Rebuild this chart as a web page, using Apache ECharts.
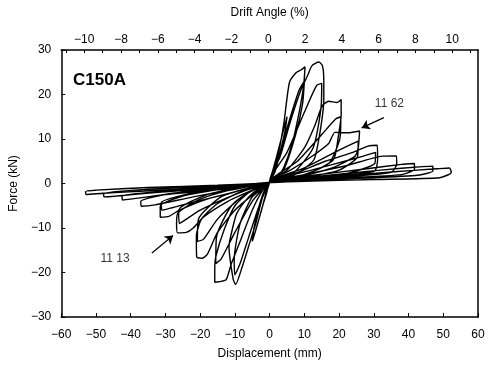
<!DOCTYPE html>
<html>
<head>
<meta charset="utf-8">
<script src="https://cdn.jsdelivr.net/npm/echarts@6/dist/echarts.min.js"></script>
<style>
  html, body { margin: 0; padding: 0; background: #fff; }
  #chart { width: 489px; height: 367px; }
</style>
</head>
<body>
<div id="chart"></div>
<script>
// displacement (mm), force (kN) - one loop per amplitude
var loop2 = [[0,0.5],[1,3],[2,6],[2.5,7.5],[2,6],[1,3],[0,0.6],[-1,-2.5],[-2,-5],[-2.5,-6.5],[-2,-5],[-1,-2],[0,0.4]];
var loop5 = [[0,0.5],[2,6],[4,12],[5,15],[4.5,12],[3,7],[1.5,2.5],[0,0.4],[-2,-5],[-4,-10.5],[-5,-13],[-4.5,-10],[-3,-5],[-1.5,-1.5],[0,0.3]];
var loop10 = [[0,0.5],[2,5],[4,13],[5.7,22.7],[7.6,24.9],[9,25.5],[10.2,26.2],[9.8,22],[8.5,16],[6.5,9],[4,3.5],[2,1.2],[0,0.3],
  [-2,-3],[-4,-9],[-6,-14],[-8,-19],[-9.8,-22.7],[-10.5,-21.5],[-11.7,-14.1],[-10.5,-9.5],[-9.4,-6.6],[-6,-3],[-3,-1],[0,0.3]];
var loop10b = [[0,0.4],[3,7],[6,15],[8.5,21],[10,23],[9.5,18],[7.5,11],[4,3],[0,0.2],
  [-3,-5],[-6,-12],[-8.5,-18],[-10,-20.5],[-10.2,-17],[-8.5,-9],[-5,-3],[0,0.2]];
var loop15 = [[0,0.5],[3,6],[6,14],[9,21],[10.9,24.2],[12.2,26.5],[14.2,27.3],[15.2,26.5],[15.6,23],[15.6,18.9],[14.5,11.5],[12.8,5.4],[9,2.8],[6,1.6],[3,0.8],[0,0.2],
  [-2,-1.5],[-5,-6],[-8,-12],[-11,-18],[-12.5,-21.6],[-14,-22],[-15.8,-22.2],[-15.8,-19],[-15.5,-16.4],[-13.1,-10.4],[-10,-5],[-6,-2],[-3,-0.8],[0,0.2]];
var loop15b = [[0,0.4],[5,7],[10,16],[13.5,22],[15,22.5],[14.8,17],[12.5,8],[7,2.5],[0,0.2],
  [-5,-4],[-10,-11],[-14,-17],[-15.5,-18],[-15.3,-12],[-11,-5],[-5,-1.5],[0,0.2]];
var loop20 = [[0,0.5],[5,3],[10,8],[13,13],[15.1,17.4],[17,18.5],[19.4,18.2],[20.6,18.9],[20.6,15.5],[19.8,10.7],[18.4,5.4],[12,2.5],[6,1.2],[0,0.2],
  [-4,-2],[-10,-6],[-15,-11],[-18,-16],[-19.5,-16.8],[-21,-16.5],[-21.1,-11.9],[-19.7,-8.1],[-15,-4.5],[-8,-1.8],[0,0.2]];
var loop20b = [[0,0.4],[8,5],[15,11],[19,14.5],[20.5,15],[20.2,10],[17,4.5],[8,1.5],[0,0.2],
  [-8,-3],[-15,-8],[-19,-12.5],[-20.8,-13],[-20.5,-8],[-14,-3],[-6,-1],[0,0.2]];
var loop25 = [[0,0.5],[6,3],[12,6],[17,9],[18.8,11.5],[22.7,11.4],[25.9,11.8],[25.5,8],[24.5,6.1],[18,3.5],[10,1.8],[0,0.3],
  [-5,-1.5],[-12,-4],[-19,-7.5],[-22,-10],[-24,-11],[-26.5,-11.1],[-26.8,-9],[-26.4,-6.6],[-20,-3.5],[-10,-1.2],[0,0.2]];
var loop25b = [[0,0.4],[10,3.5],[20,7.5],[25.5,9.5],[25.3,6],[20,3],[10,1.3],[0,0.2],
  [-10,-2.5],[-20,-6],[-26,-9],[-26.2,-6],[-18,-2.5],[-8,-0.8],[0,0.2]];
var loop30 = [[0,0.5],[8,2.5],[16,5],[24,7],[28.3,8.4],[31,8.6],[31.1,5.4],[30.2,2.8],[20,1.8],[10,1],[0,0.3],
  [-8,-1.5],[-18,-3.5],[-26,-6],[-29,-7.4],[-31.5,-7.6],[-31.5,-5.1],[-25,-2.8],[-12,-1],[0,0.2]];
var loop30b = [[0,0.4],[12,3],[24,5.5],[30.5,7],[30.3,4.5],[22,2.2],[10,0.9],[0,0.2],
  [-12,-2.3],[-24,-4.6],[-31,-6],[-31.2,-4.3],[-20,-1.8],[-8,-0.6],[0,0.2]];
var loop36 = [[0,0.5],[10,2],[22,4],[32,6.1],[36.5,6.2],[36.6,4.3],[35,2.5],[20,1.4],[0,0.3],
  [-10,-1.3],[-22,-3],[-33,-4.8],[-37,-5.1],[-37.1,-4],[-28,-2.2],[-12,-0.8],[0,0.2]];
var loop41 = [[0,0.5],[12,1.8],[28,3.3],[38,4.3],[41.7,4.5],[41.7,3.2],[38,2],[20,1.2],[0,0.3],
  [-12,-1.2],[-28,-2.3],[-39,-3.4],[-42.3,-3.7],[-42.5,-2.8],[-30,-1.7],[-12,-0.6],[0,0.2]];
var loop47 = [[0,0.5],[15,1.7],[32,3],[44,3.8],[47,3.9],[47,2.8],[42,1.8],[20,1],[0,0.3],
  [-15,-1],[-32,-2],[-44,-2.8],[-47.7,-3],[-47.8,-2.2],[-35,-1.3],[-15,-0.5],[0,0.2]];
var loop52 = [[0,0.5],[18,1.5],[35,2.6],[48,3.3],[51.8,3.5],[52.3,2.5],[49,1.3],[30,0.9],[10,0.5],[0,0.2],
  [-18,-0.9],[-36,-1.7],[-48,-2.2],[-52.8,-2.5],[-53,-1.8],[-50,-1.5],[-35,-0.9],[-15,-0.4],[0,0.1]];

var xTicks = [-60, 60, 10];
var yTicks = [-30, 30, 10];
var driftLabels = [-10, -8, -6, -4, -2, 0, 2, 4, 6, 8, 10];
var driftTicks = [-11, -10, -9, -8, -7, -6, -5, -4, -3, -2, -1, 0, 1, 2, 3, 4, 5, 6, 7, 8, 9, 10, 11];

var annotations = [
  { text: "11 62", at: [34.5, 18], from: [32.9, 14.8], to: [26.5, 12.5] },
  { text: "11 13", at: [-44.5, -17], from: [-33.9, -15.6], to: [-27.8, -11.7] }
];

var path = [].concat(loop2, loop5, loop10, loop10b, loop15, loop15b, loop20, loop20b,
  loop25, loop25b, loop30, loop30b, loop36, loop41, loop47, loop52);

function minus(v) {
  return v < 0 ? "\u2212" + Math.abs(v) : String(v);
}

var font = "Liberation Sans";
var myChart = echarts.init(document.getElementById("chart"));

var option = {
  backgroundColor: "#fff",
  animation: false,
  textStyle: { fontFamily: font },
  grid: { left: 53, right: 11, top: 50, bottom: 50 },
  graphic: [
    { type: "text", left: 73, top: 72, style: { text: "C150A", font: "bold 17px " + font, fill: "#000" } }
  ],
  xAxis: [
    {
      type: "value",
      position: "bottom",
      min: xTicks[0], max: xTicks[1], interval: xTicks[2],
      name: "Displacement (mm)",
      nameLocation: "middle",
      nameGap: 31,
      nameTextStyle: { color: "#000", fontSize: 12, fontFamily: font },
      axisLine: { onZero: false, lineStyle: { color: "#000", width: 1.5 } },
      axisTick: { inside: true, length: 4, lineStyle: { color: "#000" } },
      axisLabel: { color: "#000", fontSize: 12, margin: 12, formatter: minus },
      splitLine: { show: false }
    },
    {
      type: "value",
      position: "top",
      min: -11.25, max: 11.4,
      name: "Drift Angle (%)",
      nameLocation: "middle",
      nameGap: 31,
      nameTextStyle: { color: "#000", fontSize: 12, fontFamily: font },
      axisLine: { onZero: false, lineStyle: { color: "#000", width: 1.5 } },
      axisTick: { inside: true, length: 3, customValues: driftTicks, lineStyle: { color: "#000" } },
      axisLabel: { color: "#000", fontSize: 12, margin: 4, customValues: driftLabels, formatter: minus },
      splitLine: { show: false }
    }
  ],
  yAxis: [
    {
      type: "value",
      position: "left",
      min: yTicks[0], max: yTicks[1], interval: yTicks[2],
      name: "Force (kN)",
      nameLocation: "middle",
      nameGap: 32,
      nameTextStyle: { color: "#000", fontSize: 12, fontFamily: font },
      axisLine: { show: true, onZero: false, lineStyle: { color: "#000", width: 1.5 } },
      axisTick: { show: true, inside: true, length: 4, lineStyle: { color: "#000" } },
      axisLabel: { color: "#000", fontSize: 12, margin: 10, formatter: minus },
      splitLine: { show: false }
    },
    {
      type: "value",
      position: "right",
      min: yTicks[0], max: yTicks[1], interval: yTicks[2],
      axisLine: { show: true, onZero: false, lineStyle: { color: "#000", width: 1.5 } },
      axisTick: { show: false },
      axisLabel: { show: false },
      splitLine: { show: false }
    }
  ],
  series: [
    {
      name: "C150A",
      type: "line",
      xAxisIndex: 0,
      yAxisIndex: 0,
      data: path,
      showSymbol: false,
      smooth: 0.2,
      lineStyle: { color: "#000", width: 1.4 },
      z: 2
    },
    {
      type: "scatter",
      xAxisIndex: 0,
      yAxisIndex: 0,
      symbolSize: 0,
      data: annotations.map(function (a) { return { value: a.at, name: a.text }; }),
      label: {
        show: true,
        position: "inside",
        formatter: "{b}",
        color: "#000",
        fontSize: 12,
        fontFamily: font
      },
      markLine: {
        silent: true,
        symbol: ["none", "arrow"],
        symbolSize: 8,
        label: { show: false },
        lineStyle: { color: "#000", width: 1.2, type: "solid" },
        data: annotations.map(function (a) {
          return [{ coord: a.from }, { coord: a.to }];
        })
      }
    }
  ]
};

window.onresize = function () {
  myChart.resize();
};
myChart.setOption(option);
</script>
</body>
</html>
